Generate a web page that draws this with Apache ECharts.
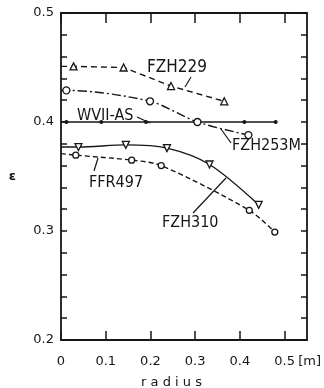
<!DOCTYPE html>
<html><head><meta charset="utf-8">
<script src="https://cdn.jsdelivr.net/npm/echarts@6/dist/echarts.min.js"></script>
<style>html,body{margin:0;padding:0;background:#fff}#c{width:324px;height:388px}</style>
</head><body><div id="c"></div>
<script>
// Data
const xTicks = [0, 0.1, 0.2, 0.3, 0.4, 0.5];
const yTickLabels = [0.2, 0.3, 0.4, 0.5];

const wviiX = [0, 0.012, 0.09, 0.19, 0.30, 0.41, 0.48];
const wviiY = [0.4, 0.4, 0.4, 0.4, 0.4, 0.4, 0.4];

const fzh229X = [0, 0.028, 0.14, 0.246, 0.365];
const fzh229Y = [0.451, 0.451, 0.450, 0.433, 0.419];

const fzh253X = [0, 0.012, 0.199, 0.305, 0.419];
const fzh253Y = [0.429, 0.429, 0.419, 0.400, 0.388];

const ffr497X = [0, 0.033, 0.158, 0.224, 0.421, 0.478];
const ffr497Y = [0.371, 0.3696, 0.365, 0.360, 0.319, 0.299];

const fzh310X = [0, 0.039, 0.145, 0.237, 0.332, 0.442];
const fzh310Y = [0.377, 0.377, 0.379, 0.376, 0.361, 0.324];

const INK = '#161616';
const FONT = 'DejaVu Sans';
const LFONT = '"DejaVu Sans Condensed", sans-serif';

function pts(xs, ys, firstNoSymbol) {
  return xs.map((x, i) => {
    const item = { value: [x, ys[i]] };
    if (firstNoSymbol && i === 0) item.symbol = 'none';
    return item;
  });
}

function line(name, xs, ys, opts) {
  return {
    type: 'line', name: name,
    data: pts(xs, ys, true),
    lineStyle: { color: INK, width: 1.4, type: opts.dash || 'solid' },
    itemStyle: { color: '#fff', borderColor: INK, borderWidth: 1.3 },
    symbol: opts.symbol, symbolSize: opts.size,
    symbolRotate: opts.rotate || 0,
    smooth: opts.smooth || false,
    animation: false, z: 3
  };
}

const chart = echarts.init(document.getElementById('c'), null, { renderer: 'canvas' });

const axisLine = { show: true, onZero: false, lineStyle: { color: INK, width: 1.8 } };

const series = [
  line('WVII-AS', wviiX, wviiY, { symbol: 'circle', size: 4 }),
  line('FZH229', fzh229X, fzh229Y, { symbol: 'triangle', size: 7, dash: [6, 4] }),
  line('FZH253M', fzh253X, fzh253Y, { symbol: 'circle', size: 7, dash: [9, 3, 2, 3], smooth: 0.3 }),
  line('FFR497', ffr497X, ffr497Y, { symbol: 'circle', size: 6, dash: [5, 3], smooth: 0.3 }),
  line('FZH310', fzh310X, fzh310Y, { symbol: 'triangle', size: 7, rotate: 180, smooth: 0.3 })
];
series[0].itemStyle = { color: INK, borderColor: INK, borderWidth: 0 };

chart.setOption({
  backgroundColor: '#fff',
  animation: false,
  grid: { left: 61, right: 17, top: 13, bottom: 48, containLabel: false, outerBoundsMode: 'none' },
  xAxis: [
    {
      type: 'value', position: 'bottom', min: 0, max: 0.55,
      axisLine: axisLine, splitLine: { show: false },
      name: 'r a d i u s', nameLocation: 'middle', nameGap: 36,
      nameTextStyle: { color: INK, fontFamily: FONT, fontSize: 13, padding: [0, 25, 0, 0] },
      axisTick: { show: true, inside: true, length: 9, customValues: xTicks, lineStyle: { color: INK, width: 1.5 } },
      axisLabel: {
        show: true, customValues: xTicks, margin: 15, color: INK, fontFamily: FONT, fontSize: 13,
        formatter: v => {
          if (Math.abs(v - 0.5) < 1e-9) return '{p|}{a|0.5}{m|[m]}';
          return v === 0 ? '{a|0}' : '{a|' + (+v).toFixed(1) + '}';
        },
        rich: {
          a: { color: INK, fontFamily: FONT, fontSize: 13 },
          p: { width: 26 },
          m: { width: 26, align: 'right', color: INK, fontFamily: FONT, fontSize: 13 }
        }
      }
    },
    {
      type: 'value', position: 'top', min: 0, max: 0.55,
      axisLine: axisLine, splitLine: { show: false },
      axisTick: { show: true, inside: true, length: 10, customValues: xTicks, lineStyle: { color: INK, width: 1.5 } },
      axisLabel: { show: false }
    }
  ],
  yAxis: [
    {
      type: 'value', position: 'left', min: 0.2, max: 0.5, interval: 0.02,
      axisLine: axisLine, splitLine: { show: false },
      name: 'ε', nameLocation: 'middle', nameRotate: 0, nameGap: 45,
      nameTextStyle: { color: INK, fontFamily: FONT, fontSize: 13, fontWeight: 'bold' },
      axisTick: { show: true, inside: true, length: 6, lineStyle: { color: INK, width: 1.5 } },
      axisLabel: {
        show: true, margin: 7, color: INK, fontFamily: FONT, fontSize: 13,
        formatter: v => {
          const r = Math.round(v * 10) / 10;
          return yTickLabels.some(t => Math.abs(t - v) < 1e-6) ? r.toFixed(1) : '';
        }
      }
    },
    {
      type: 'value', position: 'right', min: 0.2, max: 0.5, interval: 0.02,
      axisLine: axisLine, splitLine: { show: false },
      axisTick: { show: true, inside: true, length: 6, lineStyle: { color: INK, width: 1.5 } },
      axisLabel: { show: false }
    }
  ],
  series: series
});

// Annotation labels and leader lines
const txt = (t, x, y, size) => ({
  type: 'text', x: x, y: y, z: 10,
  style: { text: t, fill: INK, font: (size || 16) + 'px ' + LFONT, textAlign: 'left', textVerticalAlign: 'middle' }
});
const seg = (x1, y1, x2, y2) => ({
  type: 'line', z: 10, shape: { x1: x1, y1: y1, x2: x2, y2: y2 },
  style: { stroke: INK, lineWidth: 1.2 }
});

chart.setOption({
  graphic: [
    txt('FZH229', 147, 68, 17), seg(191, 77, 185, 87),
    txt('WVII-AS', 77, 116, 16), seg(137, 117, 150, 123),
    txt('FZH253M', 232, 146, 16), seg(221, 129, 231, 143),
    txt('FFR497', 89, 183, 16), seg(98, 158, 94, 171),
    txt('FZH310', 162, 223, 16), seg(226, 178, 193, 213)
  ]
});
</script>
</body></html>
